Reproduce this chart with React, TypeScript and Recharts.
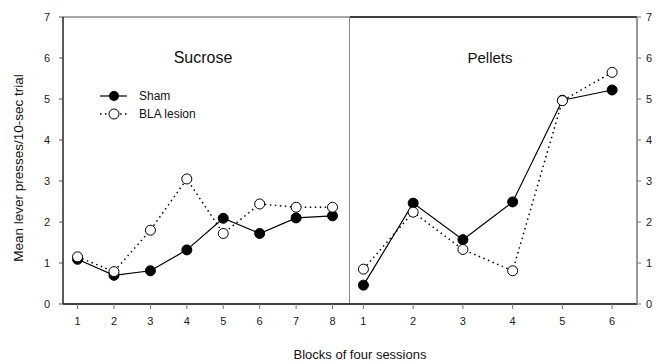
import React from "react";
import { LineChart, Line, XAxis, YAxis, ReferenceLine } from "recharts";

const sucroseBlocks = [1, 2, 3, 4, 5, 6, 7, 8];
const sucroseSham = [1.09, 0.7, 0.81, 1.32, 2.09, 1.72, 2.1, 2.15];
const sucroseBla = [1.15, 0.79, 1.8, 3.05, 1.72, 2.44, 2.36, 2.36];

const pelletBlocks = [1, 2, 3, 4, 5, 6];
const pelletSham = [0.46, 2.46, 1.57, 2.49, 4.97, 5.22];
const pelletBla = [0.85, 2.24, 1.33, 0.81, 4.96, 5.65];

const yTicks = [0, 1, 2, 3, 4, 5, 6, 7];
const seriesNames = ["Sham", "BLA lesion"];

const sucroseData = sucroseBlocks.map((b, i) => ({ block: b, sham: sucroseSham[i], bla: sucroseBla[i] }));
const pelletData = pelletBlocks.map((b, i) => ({ block: b, sham: pelletSham[i], bla: pelletBla[i] }));

const FONT = "Liberation Sans, Arial, sans-serif";
const tickStyle = { fill: "#222", fontSize: 11, fontFamily: FONT };

const FilledDot = (props: any) => {
  const { cx, cy } = props;
  if (cx == null || cy == null) return null;
  return <circle cx={cx} cy={cy} r={5} fill="#000" stroke="#000" strokeWidth={1} />;
};
const OpenDot = (props: any) => {
  const { cx, cy } = props;
  if (cx == null || cy == null) return null;
  return <circle cx={cx} cy={cy} r={5} fill="#fff" stroke="#000" strokeWidth={1} />;
};

export default function App() {
  return (
    <div style={{ position: "absolute", left: 0, top: 0, width: 658, height: 364, background: "#fff" }}>
      <div style={{ position: "absolute", left: 0, top: 0 }}>
        <LineChart width={350} height={364} data={sucroseData} margin={{ top: 17, right: 0, bottom: 30, left: 23 }}>
          <XAxis
            dataKey="block"
            type="number"
            domain={[0.6, 8.48]}
            ticks={sucroseBlocks}
            allowDataOverflow
            axisLine={{ stroke: "#000", strokeWidth: 1.5 }}
            tickLine={{ stroke: "#777" }}
            tickSize={5}
            tickMargin={8}
            tick={tickStyle}
            height={30}
          />
          <YAxis
            type="number"
            domain={[0, 7]}
            ticks={yTicks}
            axisLine={{ stroke: "#222", strokeWidth: 1.5 }}
            tickLine={{ stroke: "#555" }}
            tickSize={4}
            tickMargin={9}
            tick={tickStyle}
            width={40}
          />
          <ReferenceLine y={7} stroke="#888" strokeWidth={1.5} />
          <ReferenceLine x={8.48} stroke="#888" strokeWidth={2} />
          <Line dataKey="sham" stroke="#000" strokeWidth={1.2} dot={<FilledDot />} isAnimationActive={false} />
          <Line dataKey="bla" stroke="#000" strokeWidth={1.5} strokeDasharray="1.5 3.5" dot={<OpenDot />} isAnimationActive={false} />
        </LineChart>
      </div>
      <div style={{ position: "absolute", left: 350, top: 0 }}>
        <LineChart width={308} height={364} data={pelletData} margin={{ top: 17, right: 0, bottom: 30, left: 0 }}>
          <XAxis
            dataKey="block"
            type="number"
            domain={[0.73, 6.5]}
            ticks={pelletBlocks}
            allowDataOverflow
            axisLine={{ stroke: "#000", strokeWidth: 1.5 }}
            tickLine={{ stroke: "#777" }}
            tickSize={5}
            tickMargin={8}
            tick={tickStyle}
            height={30}
          />
          <YAxis
            orientation="right"
            type="number"
            domain={[0, 7]}
            ticks={yTicks}
            axisLine={{ stroke: "#777", strokeWidth: 1.5 }}
            tickLine={{ stroke: "#777" }}
            tickSize={4}
            tickMargin={5}
            tick={tickStyle}
            width={21}
          />
          <ReferenceLine y={7} stroke="#000" strokeWidth={1.5} />
          <Line dataKey="sham" stroke="#000" strokeWidth={1.2} dot={<FilledDot />} isAnimationActive={false} />
          <Line dataKey="bla" stroke="#000" strokeWidth={1.5} strokeDasharray="1.5 3.5" dot={<OpenDot />} isAnimationActive={false} />
        </LineChart>
      </div>
      <svg width={658} height={364} style={{ position: "absolute", left: 0, top: 0, pointerEvents: "none" }}>
        <text x={203} y={63} textAnchor="middle" fontSize={16} fontFamily={FONT} fill="#111">Sucrose</text>
        <text x={490} y={63} textAnchor="middle" fontSize={15} fontFamily={FONT} fill="#111">Pellets</text>
        <g transform="translate(100,88)">
          <line x1={0} y1={8} x2={27} y2={8} stroke="#000" strokeWidth={1.2} />
          <circle cx={14} cy={8} r={5} fill="#000" />
          <text x={39} y={12} fontSize={12} fontFamily={FONT} fill="#111">{seriesNames[0]}</text>
          <line x1={0} y1={26} x2={27} y2={26} stroke="#000" strokeWidth={1.5} strokeDasharray="1.5 3.5" />
          <circle cx={14} cy={26} r={5} fill="#fff" stroke="#000" strokeWidth={1} />
          <text x={39} y={30} fontSize={12} fontFamily={FONT} fill="#111">{seriesNames[1]}</text>
        </g>
        <text x={360} y={359} textAnchor="middle" fontSize={13} fontFamily={FONT} fill="#111">Blocks of four sessions</text>
        <text
          transform="translate(23,168) rotate(-90)"
          textAnchor="middle"
          fontSize={13.5}
          fontFamily={FONT}
          fill="#111"
        >
          Mean lever presses/10-sec trial
        </text>
      </svg>
    </div>
  );
}
